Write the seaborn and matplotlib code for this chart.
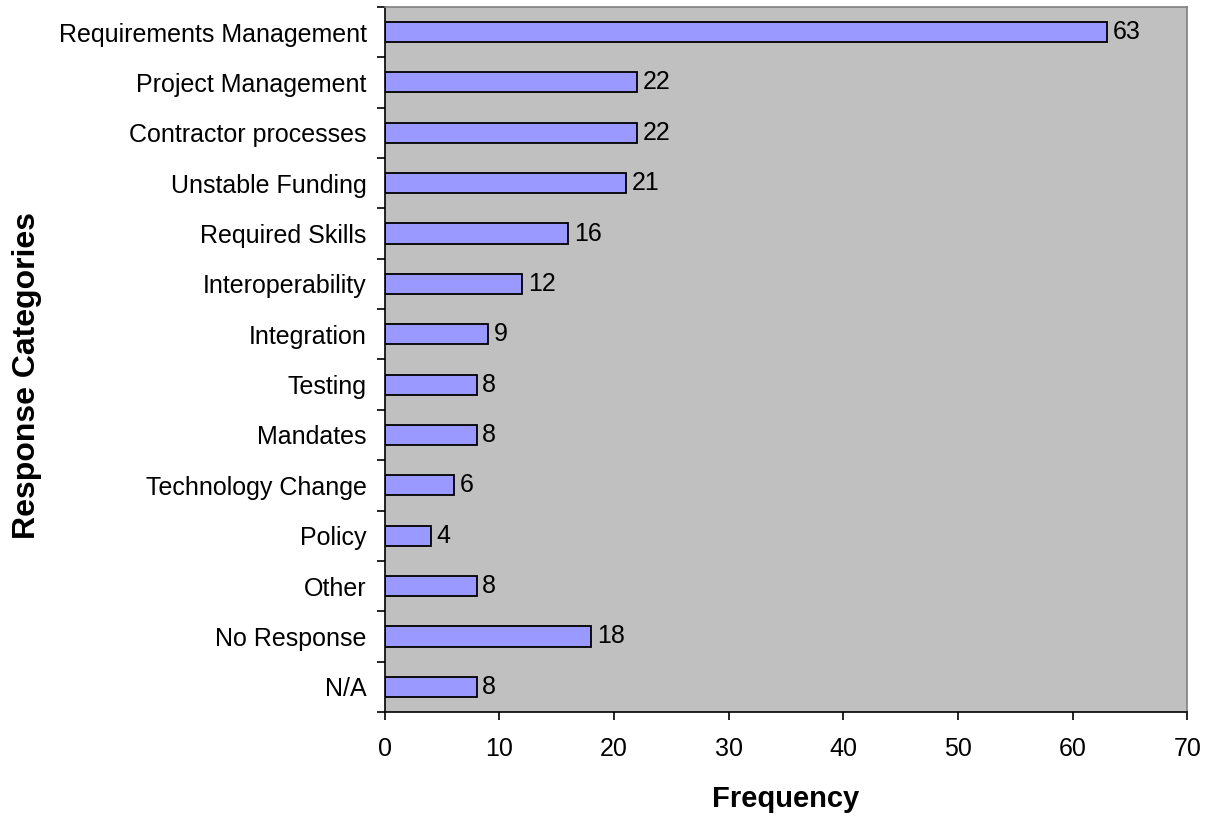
import numpy as np
import pandas as pd
import matplotlib.pyplot as plt
import seaborn as sns
from matplotlib.ticker import FixedLocator

sns.set_theme(style="white")
plt.rcParams['font.family'] = ['Liberation Sans', 'DejaVu Sans']
plt.rcParams['text.color'] = 'black'
plt.rcParams['axes.labelcolor'] = 'black'

# Dados
categorias = ['Requirements Management', 'Project Management', 'Contractor processes',
              'Unstable Funding', 'Required Skills', 'Interoperability', 'Integration',
              'Testing', 'Mandates', 'Technology Change', 'Policy', 'Other',
              'No Response', 'N/A']
frequencias = [63, 22, 22, 21, 16, 12, 9, 8, 8, 6, 4, 8, 18, 8]
x_ticks = [0, 10, 20, 30, 40, 50, 60, 70]

df = pd.DataFrame({'categoria': categorias, 'frequencia': frequencias})

fig = plt.figure(figsize=(12.14, 8.18), dpi=100)
ax = fig.add_axes([0.317, 0.1296, 0.661, 0.862])

sns.barplot(data=df, x='frequencia', y='categoria', orient='h', width=0.4,
            color='#9999FF', saturation=1, edgecolor='black', linewidth=1.3, ax=ax)

ax.set_facecolor('#C0C0C0')
for lado in ['top', 'right']:
    ax.spines[lado].set_color('#808080')
for lado in ['left', 'bottom']:
    ax.spines[lado].set_color('black')
for s in ax.spines.values():
    s.set_linewidth(1.2)

# Rótulos de valor
for i, v in enumerate(frequencias):
    ax.text(v + 0.5, i, str(v), va='center', ha='left', fontsize=18, color='black')

ax.set_xlim(0, 70)
ax.set_xticks(x_ticks)
ax.set_ylim(len(categorias) - 0.5, -0.5)
ax.yaxis.set_minor_locator(FixedLocator(np.arange(-0.5, len(categorias), 1)))
ax.tick_params(axis='y', which='major', length=0, labelsize=18, pad=13, colors='black')
ax.tick_params(axis='y', which='minor', length=6, width=1.2, color='black', left=True)
ax.tick_params(axis='x', which='major', length=6, width=1.2, labelsize=18, pad=12,
               colors='black', bottom=True)

ax.set_xlabel('Frequency', fontsize=21, fontweight='bold', labelpad=17)
ax.set_ylabel('Response Categories', fontsize=23, fontweight='bold')
ax.yaxis.set_label_coords(-0.427, 0.477)

plt.savefig('out.png', dpi=100)
